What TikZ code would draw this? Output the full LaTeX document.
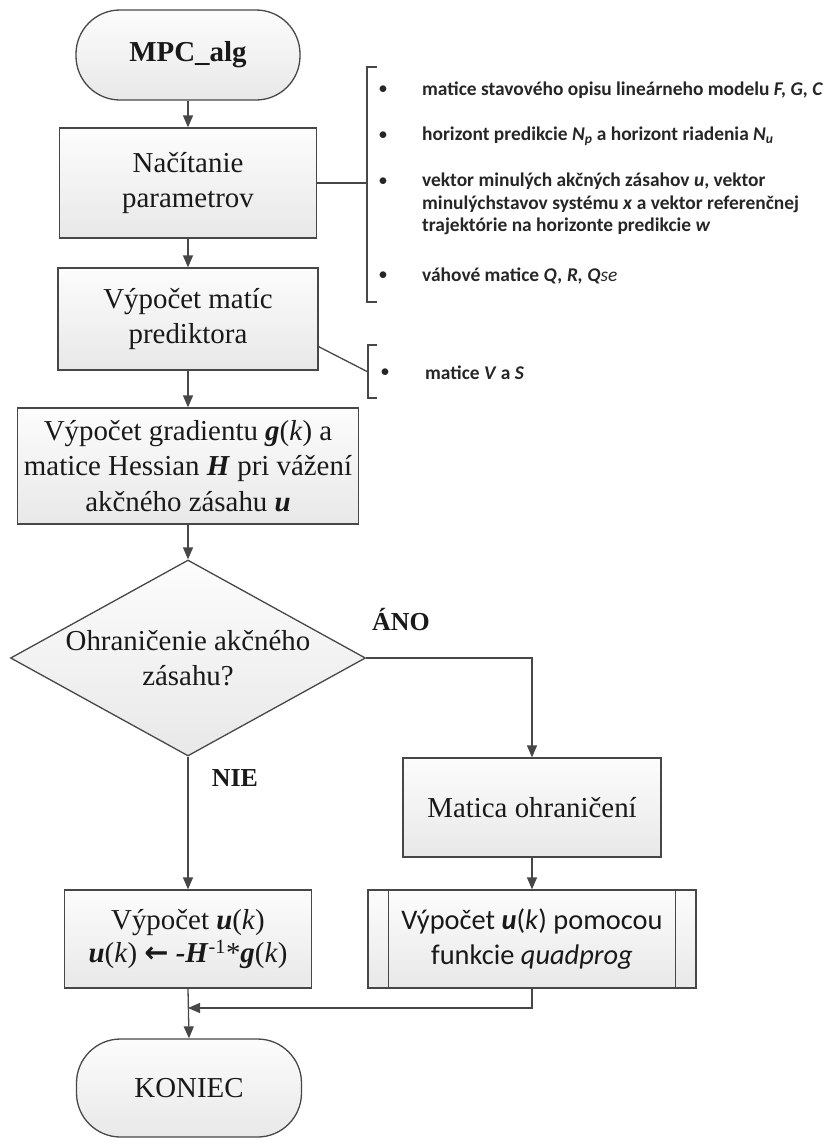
\documentclass[tikz,border=0pt]{standalone}
\usepackage{fontspec}
\setmainfont{Liberation Serif}
\newfontfamily\calibri{Carlito}
\newfontfamily\symfont{DejaVu Sans}
\usetikzlibrary{arrows.meta,shapes.geometric,calc}

\begin{document}
\begin{tikzpicture}[x=1bp,y=-1bp,
  line/.style={draw=black!72, line width=1.3bp},
  arr/.style={line, -{Triangle[length=12bp,width=10bp]}},
  shade/.style={top color=black!1, bottom color=black!9},
  box/.style={line, shade, rectangle, inner sep=0pt, align=center,
    font=\fontsize{29}{36}\selectfont, text=black!90},
  term/.style={box, rounded corners=44bp},
  sansbox/.style={box, font=\calibri\fontsize{28.5}{35}\selectfont},
  decision/.style={line, shade, diamond, inner sep=0pt,
    minimum width=355bp, minimum height=196bp},
  answer/.style={font=\bfseries\fontsize{26}{30}\selectfont, text=black!90},
  note/.style={anchor=west, align=left, inner sep=0pt, text=black!85,
    font=\calibri\bfseries\fontsize{19.5}{22.5}\selectfont},
  dot/.style={inner sep=0pt, text=black!85, font=\calibri\fontsize{19}{22}\selectfont},
]
\useasboundingbox (0,0) rectangle (827,1144);

% main column
\node[term, minimum width=224bp, minimum height=90bp] (start) at (188,55)
  {\textbf{MPC\_alg}};
\node[box, minimum width=257bp, minimum height=110bp] (load) at (188,183)
  {Načítanie\\parametrov};
\node[box, minimum width=260bp, minimum height=102bp] (pred) at (188,319)
  {Výpočet matíc\\prediktora};
\node[box, minimum width=341bp, minimum height=116bp] (grad) at (188,466)
  {Výpočet gradientu \textbf{\textit{g}}(\textit{k}) a\\
   matice Hessian \textbf{\textit{H}} pri vážení\\
   akčného zásahu \textbf{\textit{u}}};
\node[decision] (dec) at (188,658) {};
\node[align=center, inner sep=0pt, font=\fontsize{29}{35}\selectfont, text=black!90]
  (dectext) at (dec.center) {Ohraničenie akčného\\zásahu?};
\node[box, minimum width=247bp, minimum height=98bp, font=\fontsize{29}{34}\selectfont]
  (direct) at (188,939)
  {Výpočet \textbf{\textit{u}}(\textit{k})\\
   \textbf{\textit{u}}(\textit{k}) {\symfont\bfseries ←}
   \textbf{\textit{-H}}\textsuperscript{-1}*\textbf{\textit{g}}(\textit{k})};
\node[term, minimum width=225bp, minimum height=98bp] (stop) at (189,1088)
  {KONIEC};

% constrained branch
\node[box, minimum width=258bp, minimum height=99bp] (mat) at (532,807.5)
  {Matica ohraničení};
\node[sansbox, minimum width=328bp, minimum height=98bp] (qp) at (532,939)
  {Výpočet \textbf{\textit{u}}(\textit{k}) pomocou\\funkcie \textit{quadprog}};
\draw[line] ($(qp.north west)+(21,0)$) -- ($(qp.south west)+(21,0)$);
\draw[line] ($(qp.north east)+(-21,0)$) -- ($(qp.south east)+(-21,0)$);

% branch labels
\node[answer] (yes) at (401,620) {ÁNO};
\node[answer] (no) at (235,778) {NIE};

% flow connectors
\draw[arr] (start) -- (load);
\draw[arr] (load) -- (pred);
\draw[arr] (pred) -- (grad);
\draw[arr] (grad) -- (dec.north);
\draw[arr] (dec.east) -| (mat.north);
\draw[arr] (dec.south) -- (direct.north);
\draw[arr] (mat) -- (qp);
\coordinate (merge) at (188,1008);
\draw[arr] (qp.south) |- (merge);
\draw[arr] (direct.south) -- (stop.north);

% parameter annotation
\coordinate (b1) at (367,183);
\draw[line] (377,67) -- (367,67) -- (367,302) -- (377,302);
\draw[line] (load.east) -- (b1);
\node[dot] (d1) at (383,90) {•};
\node[dot] (d2) at (383,136) {•};
\node[dot] (d3) at (383,182) {•};
\node[dot] (d4) at (383,276) {•};
\node[note] (n1) at (422,90) {matice stavového opisu lineárneho modelu \textit{F, G, C}};
\node[note] (n2) at (422,136) {horizont predikcie \textit{N}\textsubscript{\textit{p}} a horizont riadenia \textit{N}\textsubscript{\textit{u}}};
\node[note] (n3) at (422,204) {vektor minulých akčných zásahov \textit{u}, vektor\\
  minulýchstavov systému \textit{x} a vektor referenčnej\\
  trajektórie na horizonte predikcie \textit{w}};
\node[note] (n4) at (422,276) {váhové matice \textit{Q, R, Q}{\mdseries\textit{se}}};

% predictor annotation
\coordinate (b2) at (368,372);
\draw[line] (377,345) -- (368,345) -- (368,398) -- (377,398);
\draw[line] ($(pred.south east)+(0,-24)$) -- (b2);
\node[dot] (d5) at (385,373) {•};
\node[note] (n5) at (425,373) {matice \textit{V} a \textit{S}};
\end{tikzpicture}
\end{document}
